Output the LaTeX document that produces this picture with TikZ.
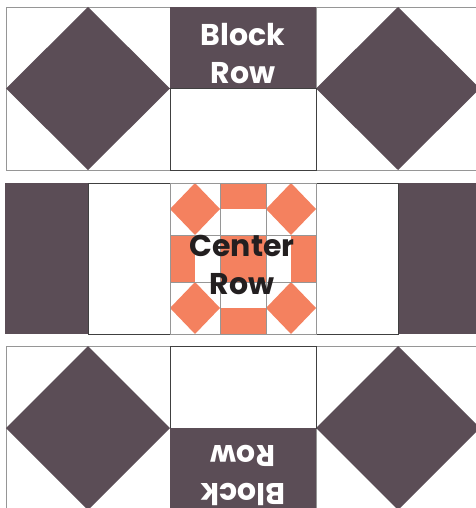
\documentclass[tikz,border=0pt]{standalone}
\usepackage{fontspec}
\newfontfamily\labelfont{Poppins}
\usepackage{tikz}
\usetikzlibrary{positioning}

\definecolor{plum}{RGB}{91,77,86}
\definecolor{salmon}{RGB}{244,129,95}
\definecolor{seam}{RGB}{150,150,150}
\definecolor{inkdark}{RGB}{35,31,32}

\tikzset{
  block/.style={fill=white, draw=seam, line width=0.9pt},
  patch/.style={fill=white, draw=black!75, line width=0.7pt},
  rowlabel/.style={align=center, inner sep=0pt, font=\labelfont\bfseries\fontsize{30}{38}\selectfont},
}

\begin{document}
\begin{tikzpicture}[x=1pt, y=-1pt]
  \useasboundingbox (0,0) rectangle (475,508);
  % Top row
  \foreach \xa/\xb in {6/170, 316/480} {
    \draw[block] (\xa,7) rectangle (\xb,170);
    \fill[plum] ({(\xa+\xb)/2},7) -- (\xb,88.5) -- ({(\xa+\xb)/2},170) -- (\xa,88.5) -- cycle;
  }
  \fill[plum] (170,7) rectangle (316,88);
  \draw[patch] (170,88) rectangle (316,170);
  \node[rowlabel, text=white] (blocktop) at (243,54) {Block\\Row};

  % Center row
  \fill[plum] (5,183) rectangle (88,334);
  \fill[plum] (398,183) rectangle (480,334);
  \draw[patch] (88,183) rectangle (170,334);
  \draw[patch] (316,183) rectangle (398,334);
  % Center block (orange star)
  \fill[white] (170,183) rectangle (316,334);
  \foreach \xa/\xb/\ya/\yb in {170/220/183/235, 266/316/183/235, 170/220/282/334, 266/316/282/334} {
    \fill[salmon] ({(\xa+\xb)/2},\ya) -- (\xb,{(\ya+\yb)/2}) -- ({(\xa+\xb)/2},\yb) -- (\xa,{(\ya+\yb)/2}) -- cycle;
  }
  \fill[salmon] (220,183) rectangle (266,209);
  \fill[salmon] (220,308) rectangle (266,334);
  \fill[salmon] (170,235) rectangle (195,282);
  \fill[salmon] (291,235) rectangle (316,282);
  \fill[salmon] (220,235) rectangle (266,282);
  \foreach \x in {220,266} \draw[seam, line width=0.9pt] (\x,183) -- (\x,334);
  \foreach \y in {235,282} \draw[seam, line width=0.9pt] (170,\y) -- (316,\y);
  \draw[seam, line width=0.9pt] (170,183) rectangle (316,334);
  \node[rowlabel, text=inkdark] (centerrow) at (242,265) {Center\\Row};

  % Bottom row
  \foreach \xa/\xb in {6/170, 316/480} {
    \draw[block] (\xa,346) rectangle (\xb,510);
    \fill[plum] ({(\xa+\xb)/2},346) -- (\xb,428) -- ({(\xa+\xb)/2},510) -- (\xa,428) -- cycle;
  }
  \draw[patch] (170,346) rectangle (316,428);
  \fill[plum] (170,428) rectangle (316,510);
  \node[rowlabel, text=white, rotate=180] (blockbottom) at (243,475) {Block\\Row};
\end{tikzpicture}
\end{document}
